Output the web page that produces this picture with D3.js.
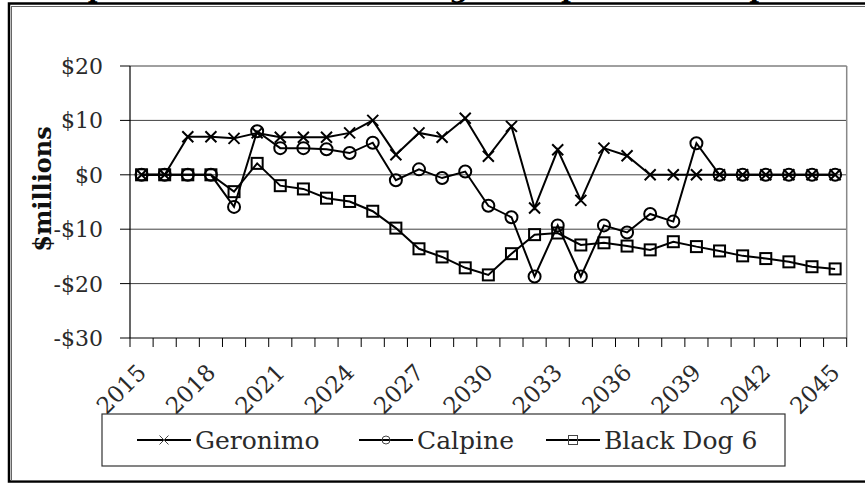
<!DOCTYPE html>
<html>
<head>
<meta charset="utf-8">
<script src="https://cdn.jsdelivr.net/npm/d3@7"></script>
<style>
  body { margin: 0; background: #fff; }
  svg { display: block; font-family: "DejaVu Serif", serif; }
</style>
</head>
<body>
<div id="chart"></div>
<script>
// Data ($ millions)
var years = [2015, 2016, 2017, 2018, 2019, 2020, 2021, 2022, 2023, 2024,
             2025, 2026, 2027, 2028, 2029, 2030, 2031, 2032, 2033, 2034,
             2035, 2036, 2037, 2038, 2039, 2040, 2041, 2042, 2043, 2044, 2045];
var geronimo = [0, 0, 7.0, 7.0, 6.7, 7.7, 6.9, 6.9, 6.9, 7.7,
                10.0, 3.7, 7.7, 6.9, 10.4, 3.4, 8.9, -6.1, 4.6, -4.7,
                4.9, 3.5, 0, 0, 0, 0, 0, 0, 0, 0, 0];
var calpine = [0, 0, 0, 0, -5.9, 8.0, 4.9, 4.9, 4.7, 4.0,
               5.9, -1.0, 1.0, -0.6, 0.6, -5.7, -7.8, -18.7, -9.3, -18.7,
               -9.3, -10.6, -7.2, -8.6, 5.8, 0, 0, 0, 0, 0, 0];
var blackDog = [0, 0, 0, 0, -3.1, 2.1, -2.0, -2.6, -4.3, -4.9,
                -6.7, -9.8, -13.6, -15.1, -17.1, -18.4, -14.5, -11.0, -10.7, -12.9,
                -12.5, -13.1, -13.8, -12.3, -13.2, -14.0, -14.9, -15.4, -16.0, -16.9, -17.3];
var seriesNames = ["Geronimo", "Calpine", "Black Dog 6"];
var seriesMarks = ["cross", "circle", "square"];
var yTicks = [-30, -20, -10, 0, 10, 20];
var xLabelYears = [2015, 2018, 2021, 2024, 2027, 2030, 2033, 2036, 2039, 2042, 2045];
var titleText = "Comparison of Annual Savings Compared to Proposals";

var W = 865, H = 483;
var plot = { left: 130, right: 846.7, top: 66, bottom: 338 };
var textCol = "#2a2a2a";

var svg = d3.select("#chart").append("svg").attr("width", W).attr("height", H);

// outer frame (double line)
svg.append("rect").attr("x", 9).attr("y", 3.5).attr("width", 900).attr("height", 478)
  .attr("fill", "none").attr("stroke", "#000").attr("stroke-width", 2.5);
svg.append("rect").attr("x", 11.5).attr("y", 6.5).attr("width", 900).attr("height", 474)
  .attr("fill", "none").attr("stroke", "#666").attr("stroke-width", 1);

// title, sits above the picture; only the descenders peek in
svg.append("text").attr("x", 432).attr("y", -3).attr("text-anchor", "middle")
  .style("font-weight", "bold").style("font-size", "27px").text(titleText);

var x = d3.scaleBand().domain(years).range([plot.left, plot.right]).padding(0);
var y = d3.scaleLinear().domain([-30, 20]).range([plot.bottom, plot.top]);
var cx = function(d) { return x(d) + x.bandwidth() / 2; };

// gridlines
svg.append("g").selectAll("line").data(yTicks.filter(function(d) { return d != -30; }))
  .enter().append("line")
  .attr("x1", plot.left).attr("x2", plot.right)
  .attr("y1", function(d) { return y(d); }).attr("y2", function(d) { return y(d); })
  .attr("stroke", "#404040").attr("stroke-width", 1);

// right plot border
svg.append("line").attr("x1", plot.right).attr("x2", plot.right)
  .attr("y1", plot.top).attr("y2", plot.bottom).attr("stroke", "#888").attr("stroke-width", 1.5);

// y axis
var yAxis = svg.append("g");
yAxis.append("line").attr("x1", plot.left).attr("x2", plot.left)
  .attr("y1", plot.top).attr("y2", plot.bottom).attr("stroke", "#000").attr("stroke-width", 1.2);
yAxis.selectAll(".tk").data(yTicks).enter().append("line")
  .attr("x1", plot.left - 10).attr("x2", plot.left)
  .attr("y1", function(d) { return y(d); }).attr("y2", function(d) { return y(d); })
  .attr("stroke", "#000").attr("stroke-width", 1);
yAxis.selectAll("text").data(yTicks).enter().append("text")
  .attr("x", 103).attr("y", function(d) { return y(d); })
  .attr("dy", "0.36em").attr("text-anchor", "end")
  .style("font-size", "22px").attr("fill", textCol)
  .text(function(d) { return (d < 0 ? "-$" : "$") + Math.abs(d); });

// x axis
var xAxis = svg.append("g");
xAxis.append("line").attr("x1", plot.left).attr("x2", plot.right)
  .attr("y1", plot.bottom).attr("y2", plot.bottom).attr("stroke", "#000").attr("stroke-width", 1.2);
var bounds = years.map(function(d) { return x(d); }).concat([plot.right]);
xAxis.selectAll(".tk").data(bounds).enter().append("line")
  .attr("x1", function(d) { return d; }).attr("x2", function(d) { return d; })
  .attr("y1", plot.bottom).attr("y2", plot.bottom + 9)
  .attr("stroke", "#000").attr("stroke-width", 1);
xAxis.selectAll("text").data(xLabelYears).enter().append("text")
  .attr("transform", function(d) { return "translate(" + (cx(d) + 6) + ",374) rotate(-45)"; })
  .attr("text-anchor", "end").style("font-size", "23px").attr("fill", textCol)
  .text(function(d) { return d; });

// y title
svg.append("text").attr("transform", "translate(51,189) rotate(-90)")
  .attr("text-anchor", "middle").style("font-weight", "bold").style("font-size", "24px")
  .attr("fill", "#111").text("$millions");

// markers
function drawMark(g, type, px, py, s, sw, col) {
  if (type == "cross") {
    g.append("path").attr("d", "M" + (px - s) + "," + (py - s) + "L" + (px + s) + "," + (py + s) +
      "M" + (px - s) + "," + (py + s) + "L" + (px + s) + "," + (py - s))
      .attr("stroke", col).attr("stroke-width", sw).attr("fill", "none");
  } else if (type == "circle") {
    g.append("circle").attr("cx", px).attr("cy", py).attr("r", s)
      .attr("stroke", col).attr("stroke-width", sw).attr("fill", "none");
  } else {
    g.append("rect").attr("x", px - s).attr("y", py - s).attr("width", 2 * s).attr("height", 2 * s)
      .attr("stroke", col).attr("stroke-width", sw).attr("fill", "none");
  }
}

var allSeries = [geronimo, calpine, blackDog];
var line = d3.line().x(function(d, i) { return cx(years[i]); }).y(function(d) { return y(d); });

allSeries.forEach(function(vals, k) {
  var g = svg.append("g");
  g.append("path").datum(vals).attr("d", line)
    .attr("fill", "none").attr("stroke", "#000").attr("stroke-width", 2);
  vals.forEach(function(v, i) {
    var sz = seriesMarks[k] == "cross" ? 5.5 : (seriesMarks[k] == "circle" ? 6 : 5.5);
    drawMark(g, seriesMarks[k], cx(years[i]), y(v), sz, 2, "#000");
  });
});

// legend
var lg = svg.append("g");
lg.append("rect").attr("x", 102).attr("y", 414).attr("width", 683).attr("height", 52)
  .attr("fill", "#fff").attr("stroke", "#333").attr("stroke-width", 1.2);
var legX = [137, 359, 546];
seriesNames.forEach(function(name, k) {
  var x0 = legX[k], ly = 440;
  lg.append("line").attr("x1", x0).attr("x2", x0 + 54).attr("y1", ly).attr("y2", ly)
    .attr("stroke", "#000").attr("stroke-width", 2);
  drawMark(lg, seriesMarks[k], x0 + 27, ly, seriesMarks[k] == "circle" ? 4 : 4.5, 1, "#444");
  lg.append("text").attr("x", x0 + 58).attr("y", ly).attr("dy", "0.36em")
    .style("font-size", "25px").attr("fill", textCol).text(name);
});
</script>
</body>
</html>
